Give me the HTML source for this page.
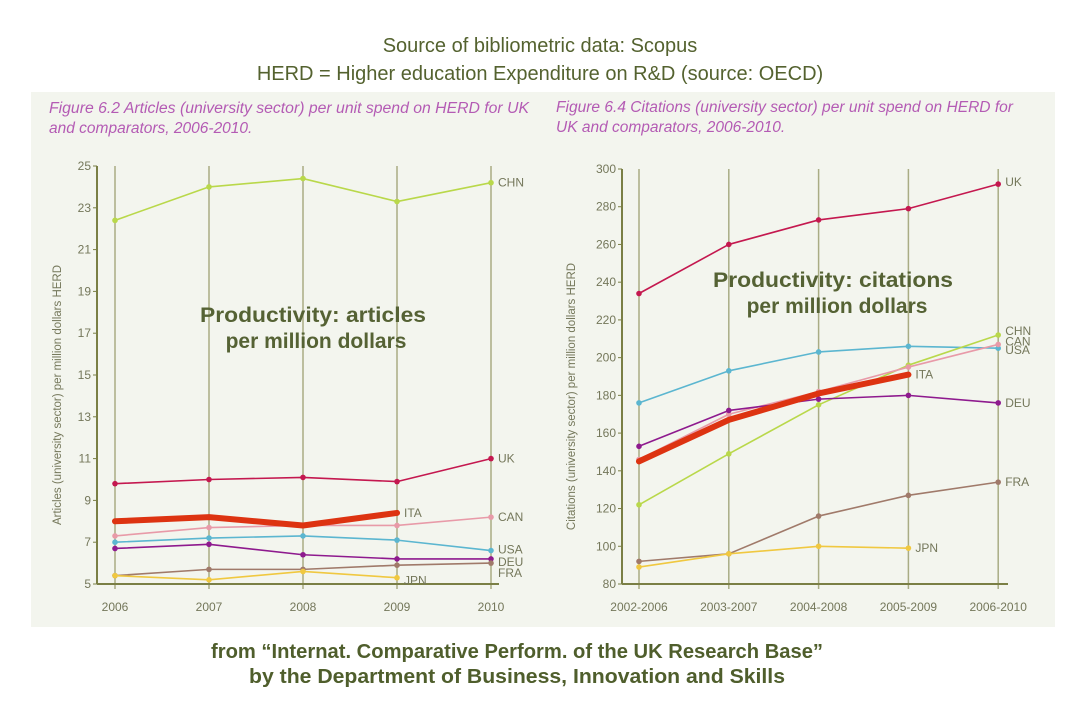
<!DOCTYPE html>
<html><head><meta charset="utf-8"><style>
html,body{margin:0;padding:0;background:#fff;}
svg{display:block;font-family:"Liberation Sans",sans-serif;}
</style></head><body>
<svg id="s" width="1081" height="723" viewBox="0 0 1081 723">
<text x="540" y="52" text-anchor="middle" font-size="20" fill="#54622f">Source of bibliometric data: Scopus</text>
<text x="540" y="80" text-anchor="middle" font-size="20" fill="#54622f">HERD = Higher education Expenditure on R&amp;D (source: OECD)</text>
<rect x="31" y="92" width="1024" height="535" fill="#f3f5ee"/>
<text x="49" y="113" font-size="15.5" font-style="italic" fill="#b45bb4" textLength="480" lengthAdjust="spacingAndGlyphs">Figure 6.2 Articles (university sector) per unit spend on HERD for UK</text>
<text x="49" y="133" font-size="15.5" font-style="italic" fill="#b45bb4">and comparators, 2006-2010.</text>
<text x="556" y="112" font-size="15.5" font-style="italic" fill="#b45bb4" textLength="457" lengthAdjust="spacingAndGlyphs">Figure 6.4 Citations (university sector) per unit spend on HERD for</text>
<text x="556" y="132" font-size="15.5" font-style="italic" fill="#b45bb4">UK and comparators, 2006-2010.</text>
<g id="left"></g>
<g id="right"></g>
<text x="313" y="322" text-anchor="middle" font-size="21" font-weight="bold" fill="#556234" textLength="226" lengthAdjust="spacingAndGlyphs">Productivity: articles</text>
<text x="316" y="348" text-anchor="middle" font-size="21" font-weight="bold" fill="#556234">per million dollars</text>
<text x="833" y="287" text-anchor="middle" font-size="21" font-weight="bold" fill="#556234" textLength="240" lengthAdjust="spacingAndGlyphs">Productivity: citations</text>
<text x="837" y="313" text-anchor="middle" font-size="21" font-weight="bold" fill="#556234">per million dollars</text>
<text x="517" y="658" text-anchor="middle" font-size="20" font-weight="bold" fill="#4f5e2c" textLength="612" lengthAdjust="spacingAndGlyphs">from “Internat. Comparative Perform. of the UK Research Base”</text>
<text x="517" y="683" text-anchor="middle" font-size="20" font-weight="bold" fill="#4f5e2c" textLength="536" lengthAdjust="spacingAndGlyphs">by  the Department of Business, Innovation and Skills</text>
</svg>
<script>
const leftCats = ["2006","2007","2008","2009","2010"];
const leftTicks = [5,7,9,11,13,15,17,19,21,23,25];
const leftCHN = [22.4,24.0,24.4,23.3,24.2];
const leftUK = [9.8,10.0,10.1,9.9,11.0];
const leftITA = [8.0,8.2,7.8,8.4];
const leftCAN = [7.3,7.7,7.8,7.8,8.2];
const leftUSA = [7.0,7.2,7.3,7.1,6.6];
const leftDEU = [6.7,6.9,6.4,6.2,6.2];
const leftFRA = [5.4,5.7,5.7,5.9,6.0];
const leftJPN = [5.4,5.2,5.6,5.3];

const rightCats = ["2002-2006","2003-2007","2004-2008","2005-2009","2006-2010"];
const rightTicks = [80,100,120,140,160,180,200,220,240,260,280,300];
const rightUK = [234,260,273,279,292];
const rightUSA = [176,193,203,206,205];
const rightCHN = [122,149,175,196,212];
const rightCAN = [146,170,182,195,207];
const rightITA = [145,167,181,191];
const rightDEU = [153,172,178,180,176];
const rightFRA = [92,96,116,127,134];
const rightJPN = [89,96,100,99];

const NS="http://www.w3.org/2000/svg";
function mk(tag,attrs,parent){const e=document.createElementNS(NS,tag);for(const k in attrs)e.setAttribute(k,attrs[k]);parent.appendChild(e);return e;}

function chart(g,cfg){
  const xs=i=>cfg.x0+i*cfg.dx;
  const ys=v=>cfg.y1-(v-cfg.vmin)/(cfg.vmax-cfg.vmin)*(cfg.y1-cfg.y0);
  cfg.cats.forEach((c,i)=>{
    const l=mk('line',{x1:xs(i),x2:xs(i),y1:cfg.y0,y2:cfg.y1+5,stroke:'#a9ac84','stroke-width':1.5},g);
    
    
    const t=mk('text',{x:xs(i),y:cfg.y1+27,'text-anchor':'middle','font-size':12,fill:'#74775a'},g);
    t.textContent=c;
    
    
  });
  cfg.ticks.forEach(v=>{
    const l=mk('line',{x1:cfg.ax-4,x2:cfg.ax,y1:ys(v),y2:ys(v),stroke:'#7a7f45','stroke-width':1},g);
    
    
    const t=mk('text',{x:cfg.ax-6,y:ys(v)+4,'text-anchor':'end','font-size':12,fill:'#74775a'},g);
    t.textContent=v;
    
    
  });
  const ya=mk('line',{x1:cfg.ax,x2:cfg.ax,y1:cfg.y0,y2:cfg.y1,stroke:'#7a7f45','stroke-width':2},g);
  
  
  const xa=mk('line',{x1:cfg.ax,x2:cfg.axEnd,y1:cfg.y1,y2:cfg.y1,stroke:'#7a7f45','stroke-width':2},g);
  
  
  const yt=mk('text',{x:0,y:0,'text-anchor':'middle','font-size':11.5,fill:'#74775a',transform:`translate(${cfg.titleX},${(cfg.y0+cfg.y1)/2+20}) rotate(-90)`},g);
  yt.textContent=cfg.ytitle;
  
  
  cfg.series.forEach(s=>{
    const pts=s.vals.map((v,i)=>xs(i)+','+ys(v)).join(' ');
    const p=mk('polyline',{points:pts,fill:'none',stroke:s.color,'stroke-width':s.w||1.6,'stroke-linejoin':'round','stroke-linecap':'round'},g);
    
    
    s.vals.forEach((v,i)=>{
      const m=mk('circle',{cx:xs(i),cy:ys(v),r:2.8,fill:s.color},g);
      
      
    });
    const last=s.vals.length-1;
    const lb=mk('text',{x:xs(last)+7,y:ys(s.vals[last])+4+(s.dy||0),'font-size':12,fill:'#74775a'},g);
    lb.textContent=s.name;
    
    
  });
}

chart(document.getElementById('left'),{cats:leftCats,ticks:leftTicks,vmin:5,vmax:25,x0:115,dx:94,y0:166,y1:584,ax:97,axEnd:499,titleX:61,
  ytitle:"Articles (university sector) per million dollars HERD",
  series:[
    {name:"CHN",vals:leftCHN,color:"#b9d84a"},
    {name:"UK",vals:leftUK,color:"#c4184f"},
    {name:"CAN",vals:leftCAN,color:"#e89aa8"},
    {name:"USA",vals:leftUSA,color:"#5bb6d0",dy:-1},
    {name:"DEU",vals:leftDEU,color:"#8e1a8e",dy:3},
    {name:"FRA",vals:leftFRA,color:"#a07a6a",dy:10},
    {name:"JPN",vals:leftJPN,color:"#f0c840",dy:3},
    {name:"ITA",vals:leftITA,color:"#dd3311",w:6}
  ]});
chart(document.getElementById('right'),{cats:rightCats,ticks:rightTicks,vmin:80,vmax:300,x0:639,dx:89.8,y0:169,y1:584,ax:622,axEnd:1008,titleX:575,
  ytitle:"Citations (university sector) per million dollars HERD",
  series:[
    {name:"UK",vals:rightUK,color:"#c4184f",dy:-2},
    {name:"USA",vals:rightUSA,color:"#5bb6d0",dy:2},
    {name:"CHN",vals:rightCHN,color:"#b9d84a",dy:-4},
    {name:"CAN",vals:rightCAN,color:"#e89aa8",dy:-3},
    {name:"DEU",vals:rightDEU,color:"#8e1a8e"},
    {name:"FRA",vals:rightFRA,color:"#a07a6a"},
    {name:"JPN",vals:rightJPN,color:"#f0c840"},
    {name:"ITA",vals:rightITA,color:"#dd3311",w:6}
  ]});
</script>
</body></html>
